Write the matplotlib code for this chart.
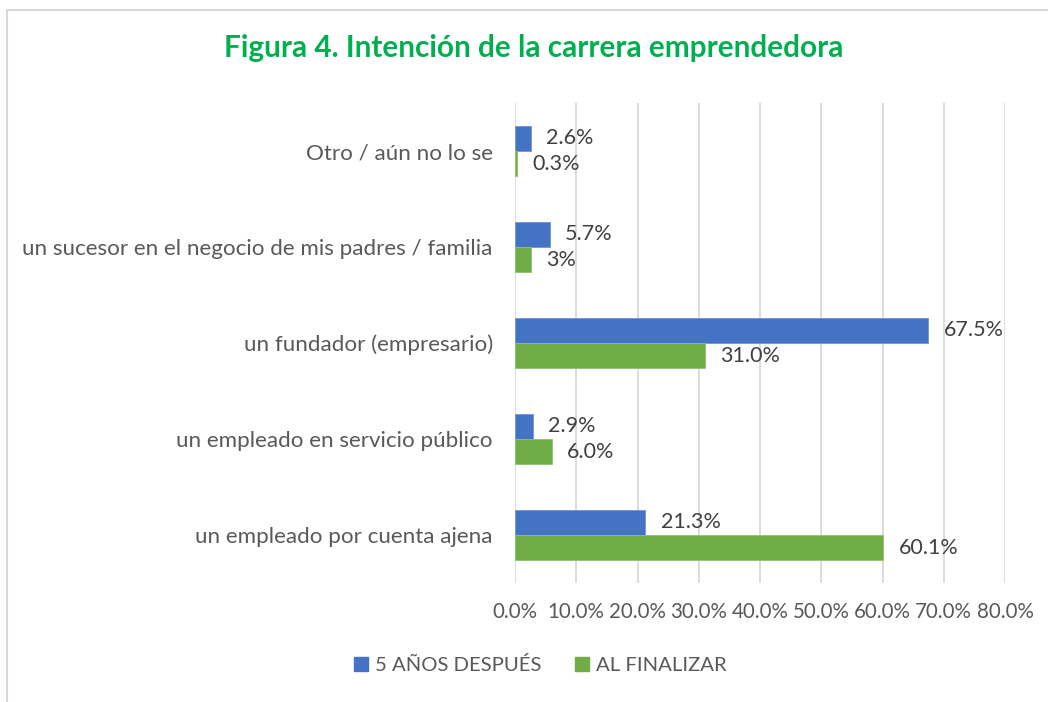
import matplotlib
matplotlib.use("Agg")
import matplotlib.pyplot as plt
from matplotlib.patches import Rectangle
from matplotlib.lines import Line2D
import numpy as np

categories = ["un empleado por cuenta ajena",
              "un empleado en servicio público",
              "un fundador (empresario)",
              "un sucesor en el negocio de mis padres / familia",
              "Otro / aún no lo se"]
series_names = ["5 AÑOS DESPUÉS", "AL FINALIZAR"]
despues = [21.3, 2.9, 67.5, 5.7, 2.6]
finalizar = [60.1, 6.0, 31.0, 2.6, 0.3]
despues_labels = ["21.3%", "2.9%", "67.5%", "5.7%", "2.6%"]
finalizar_labels = ["60.1%", "6.0%", "31.0%", "3%", "0.3%"]
xticks = [0, 10, 20, 30, 40, 50, 60, 70, 80]
xtick_labels = ["0.0%", "10.0%", "20.0%", "30.0%", "40.0%", "50.0%", "60.0%", "70.0%", "80.0%"]
title = "Figura 4. Intención de la carrera emprendedora"

BLUE = "#4472C4"
GREEN = "#70AD47"
FONT = ["Lato", "DejaVu Sans"]
plt.rcParams["font.family"] = FONT

W, H = 1048, 702
fig = plt.figure(figsize=(W / 100, H / 100), dpi=100)
ax = fig.add_axes([515 / W, 1 - 583 / H, 490 / W, 480 / H])

y = np.arange(len(categories))
h = 0.261
ax.barh(y + h / 2, despues, height=h, color=BLUE, edgecolor="#6F95D8", linewidth=0.6, zorder=3)
ax.barh(y - h / 2, finalizar, height=h, color=GREEN, edgecolor="#8CC46A", linewidth=0.6, zorder=3)

for yi, v, lab in zip(y, despues, despues_labels):
    ax.annotate(lab, (v, yi + h / 2), xytext=(11, 0), textcoords="offset points",
                ha="left", va="center", fontsize=15.5, color="#404040")
for yi, v, lab in zip(y, finalizar, finalizar_labels):
    ax.annotate(lab, (v, yi - h / 2), xytext=(11, 0), textcoords="offset points",
                ha="left", va="center", fontsize=15.5, color="#404040")

ax.set_xlim(0, 80)
ax.set_ylim(-0.5, len(categories) - 0.5)
ax.set_xticks(xticks)
ax.set_xticklabels(xtick_labels)
ax.set_yticks(y)
ax.set_yticklabels(categories)
ax.tick_params(axis="x", length=0, pad=14, labelsize=14.8, labelcolor="#595959")
ax.tick_params(axis="y", length=0, pad=16, labelsize=16.1, labelcolor="#595959")
ax.grid(axis="x", color="#D9D9D9", linewidth=1.3, zorder=0)
ax.set_axisbelow(True)
for s in ax.spines.values():
    s.set_visible(False)

fig.text(534 / W, 1 - 48 / H, title, ha="center", va="center", fontsize=21.4,
         fontweight="bold", color="#00B050")

handles = [Line2D([], [], marker="s", linestyle="none", markersize=9.5, color=BLUE),
           Line2D([], [], marker="s", linestyle="none", markersize=9.5, color=GREEN)]
fig.legend(handles, series_names, loc="center", bbox_to_anchor=(540 / W, 1 - 665 / H),
           ncol=2, frameon=False, fontsize=14.6, labelcolor="#595959",
           handlelength=0.8, handletextpad=0.3, columnspacing=1.6)

fig.add_artist(Rectangle((7 / W, -0.1), 1.2, 1 - 10 / H + 0.1, transform=fig.transFigure,
                         fill=False, edgecolor="#D9D9D9", linewidth=1.5))

fig.savefig("out.png", dpi=100)
